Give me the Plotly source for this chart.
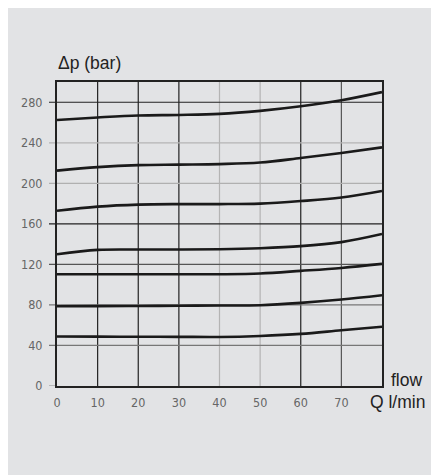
import plotly.graph_objects as go

flow = [0, 10, 20, 30, 40, 50, 60, 70, 80]
curve_1 = [262.5, 265, 267, 267.5, 268.5, 271.5, 276, 282, 290]
curve_2 = [212.5, 216, 218, 218.5, 219, 220.5, 225, 230, 235.5]
curve_3 = [173, 177, 179, 179.5, 179.5, 180, 182.5, 186, 192.5]
curve_4 = [130, 134.3, 134.7, 134.7, 135, 136, 138, 142, 150]
curve_5 = [110.3, 110.3, 110.3, 110.3, 110.3, 111, 113.6, 116.5, 120.5]
curve_6 = [78.7, 78.8, 79, 79.2, 79.4, 79.7, 82, 85.3, 89.5]
curve_7 = [48.8, 48.7, 48.6, 48.5, 48.4, 49.4, 51.4, 55, 58.5]

x_ticks = [0, 10, 20, 30, 40, 50, 60, 70]
y_ticks = [0, 40, 80, 120, 160, 200, 240, 280]
x_grid = [10, 20, 30, 40, 50, 60, 70]
x_grid_colors = ["#222", "#222", "#222", "#b4b4b4", "#b4b4b4", "#222", "#555"]
y_grid = [40, 80, 120, 160, 200, 240, 280]
y_grid_colors = ["#777", "#777", "#555", "#222", "#b0b0b0", "#b4b4b4", "#222"]

BG = "#e2e3e5"
W, H = 439, 475
ML, MT = 49, 74
PW, PH = 325, 304
MR, MB = W - ML - PW, H - MT - PH

fig = go.Figure()
for ys in [curve_1, curve_2, curve_3, curve_4, curve_5, curve_6, curve_7]:
    fig.add_trace(go.Scatter(x=flow, y=ys, mode="lines",
                             line=dict(color="#1a1a1a", width=2.6, shape="spline", smoothing=1.0),
                             hoverinfo="skip", showlegend=False))

shapes = []
for v, c in zip(x_grid, x_grid_colors):
    shapes.append(dict(type="line", xref="x", yref="paper", x0=v, x1=v, y0=0, y1=1,
                       line=dict(color=c, width=1.2), layer="below"))
for v, c in zip(y_ticks, ["#999"] + y_grid_colors):
    shapes.append(dict(type="line", xref="paper", yref="y", x0=-8 / PW, x1=1 if v else 0, y0=v, y1=v,
                       line=dict(color=c, width=1.2), layer="below"))

tickfont = dict(family="Liberation Sans Narrow, DejaVu Sans Condensed, sans-serif", size=12.5, color="#666")
labfont = dict(family="Liberation Sans, Arial, sans-serif", size=17.5, color="#222")


def py(page_y):
    return (MT + PH - (page_y - 8)) / PH


def px(page_x):
    return (page_x - 8 - ML) / PW


fig.update_layout(
    width=W, height=H,
    margin=dict(l=ML, r=MR, t=MT, b=MB),
    paper_bgcolor=BG, plot_bgcolor=BG,
    shapes=shapes,
    xaxis=dict(range=[0, 80], tickvals=x_ticks, ticktext=[str(v) for v in x_ticks],
               showgrid=False, zeroline=False, ticks="", showline=True, mirror=True,
               linecolor="#222", linewidth=2, tickfont=tickfont, ticklabelstandoff=4),
    yaxis=dict(range=[0, 300], tickvals=y_ticks, ticktext=[str(v) for v in y_ticks],
               showgrid=False, zeroline=False, ticks="", showline=True, mirror=True,
               linecolor="#222", linewidth=2, tickfont=tickfont, ticklabelstandoff=10),
    annotations=[
        dict(text="Δp (bar)", xref="paper", yref="paper", x=px(56), y=py(63),
             xanchor="left", yanchor="middle", showarrow=False, font=labfont),
        dict(text="flow", xref="paper", yref="paper", x=px(389), y=py(380),
             xanchor="left", yanchor="middle", showarrow=False, font=labfont),
        dict(text="Q l/min", xref="paper", yref="paper", x=px(368), y=py(402),
             xanchor="left", yanchor="middle", showarrow=False, font=labfont),
    ],
)
fig.write_html("out.html")
